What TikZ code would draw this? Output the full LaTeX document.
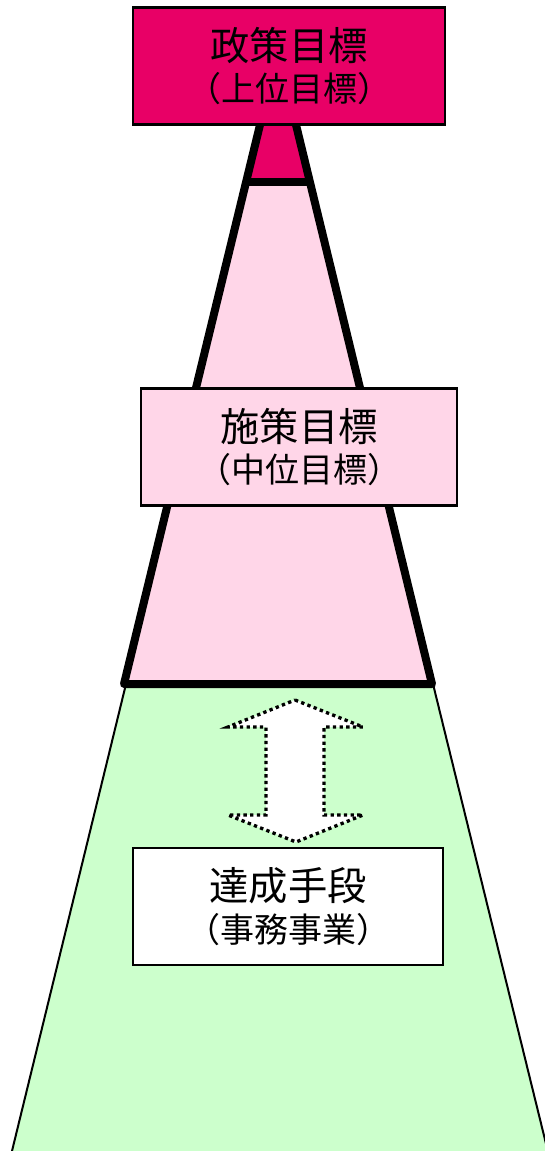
\documentclass[tikz,border=0pt]{standalone}
\usepackage{fontspec}
\newfontfamily\jpfont{Noto Sans CJK JP}
\usetikzlibrary{positioning}

\definecolor{goalred}{RGB}{232,0,102}
\definecolor{midpink}{RGB}{255,214,232}
\definecolor{lowgreen}{RGB}{204,255,204}

\tikzset{
    level/.style={draw, line width=2pt, minimum width=232pt, minimum height=88pt,
        align=center, inner sep=0pt, font=\jpfont},
    thick edge/.style={line width=6pt, line join=round, line cap=round},
}

\newcommand{\bigline}[1]{{\fontsize{29.5}{29.5}\selectfont #1}}
\newcommand{\smallline}[1]{{\fontsize{25.5}{29}\selectfont #1}}

\begin{document}
\begin{tikzpicture}[x=0.75pt, y=-0.75pt]
        \useasboundingbox (0,0) rectangle (544,1151);

        % base of the pyramid
        \filldraw[fill=lowgreen, line width=1.5pt] (126,684) -- (9.8,1160) -- (550,1160) -- (433,684) -- cycle;

        % upper part
        \fill[midpink] (246,182) -- (124,684) -- (432,684) -- (310,182) -- cycle;
        \fill[goalred] (263.6,110) -- (246,182) -- (310,182) -- (292.4,110) -- cycle;
        \draw[thick edge] (263.6,110) -- (124,684) -- (432,684) -- (292.4,110);
        \draw[thick edge, line cap=butt] (246,182) -- (310,182);

        \node[level, fill=goalred, minimum width=234pt]   (policy)  at (289,66)    {\bigline{政策目標}\\[6pt]\smallline{（上位目標）}};
        \node[level, fill=midpink, minimum width=237pt]   (measure) at (299,447)   {\bigline{施策目標}\\[6pt]\smallline{（中位目標）}};
        \node[level, fill=white, line width=1.5pt]        (means)   at (288,906.5) {\bigline{達成手段}\\[6pt]\smallline{（事務事業）}};

        % two-way arrow
        \filldraw[fill=white, line width=2.5pt, dash pattern=on 2.5pt off 2.5pt]
            (295,700) -- (363,727) -- (324,727) -- (324,815) -- (363,815) -- (296,842)
            -- (228,815) -- (266,815) -- (266,727) -- (228,727) -- cycle;
\end{tikzpicture}
\end{document}
